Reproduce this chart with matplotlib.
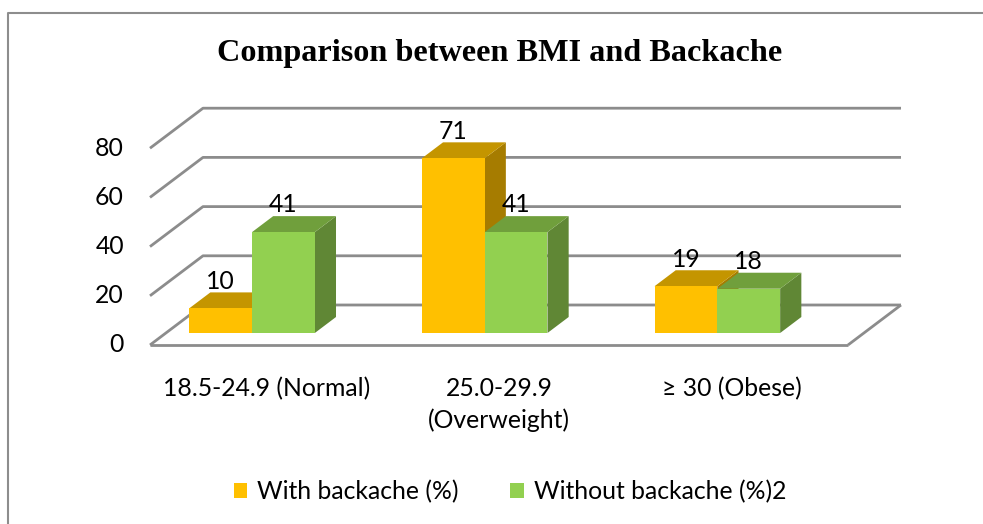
import matplotlib
matplotlib.use("Agg")
import matplotlib.pyplot as plt
from matplotlib.patches import Polygon, Patch
from matplotlib.lines import Line2D
import numpy as np

# ---- data -------------------------------------------------------------
categories = ["18.5-24.9 (Normal)", "25.0-29.9\n(Overweight)", "\u2265 30 (Obese)"]
series_names = ["With backache (%)", "Without backache (%)2"]
with_backache = [10, 71, 19]
without_backache = [41, 41, 18]
y_ticks = [0, 20, 40, 60, 80]
title = "Comparison between BMI and Backache"

# ---- style ------------------------------------------------------------
SANS = ["Lato", "DejaVu Sans"]
SERIF = ["Liberation Serif", "DejaVu Serif"]
front_colors = ["#FFC000", "#92D050"]
top_colors = ["#C49500", "#709F3C"]
side_colors = ["#A67C00", "#608735"]
grid_color = "#8C8C8C"
text_size = 17.8

W, H, DPI = 983, 524, 100
PX_CAT = 232.67          # pixels per category step
PX_VAL = 2.46            # pixels per value unit
ORIGIN = (266.33, 345)   # pixel position of (category 0, value 0) on the front plane

# oblique depth of the whole plot box (data units)
DEPTH_X = 53 / PX_CAT
DEPTH_Y = 40 / PX_VAL
# bars occupy this slice of the depth
D_FRONT, D_BACK = 0.3, 0.7
BAR_W = 0.27
GROUP_SHIFT = -0.13

fig = plt.figure(figsize=(W / DPI, H / DPI), dpi=DPI)
ax = fig.add_axes([0, 0, 1, 1])
ax.set_xlim(-ORIGIN[0] / PX_CAT, (W - ORIGIN[0]) / PX_CAT)
ax.set_ylim(-(H - ORIGIN[1]) / PX_VAL, ORIGIN[1] / PX_VAL)
ax.axis("off")

x = np.arange(len(categories))
x_lo, x_hi = -0.5, len(categories) - 0.5
grid_kw = dict(color=grid_color, lw=2.0, solid_capstyle="butt", zorder=1)

# floor outline and wall gridlines
ax.plot([x_lo, x_hi], [0, 0], **grid_kw)
ax.plot([x_hi, x_hi + DEPTH_X], [0, DEPTH_Y], **grid_kw)
for v in y_ticks:
    ax.plot([x_lo, x_lo + DEPTH_X, x_hi + DEPTH_X], [v, v + DEPTH_Y, v + DEPTH_Y], **grid_kw)
    ax.text(x_lo - 26 / PX_CAT, v, f"{v}", ha="right", va="center",
            fontsize=text_size, family=SANS, color="black")

# category labels under the floor
for xi, lab in zip(x, categories):
    ax.text(xi, -32 / PX_VAL, lab, ha="center", va="top", fontsize=text_size,
            family=SANS, linespacing=1.45, color="black")

# 3-D looking bars
dd = D_BACK - D_FRONT
series = [with_backache, without_backache]
offsets = [GROUP_SHIFT - BAR_W, GROUP_SHIFT]
for s, (vals, off) in enumerate(zip(series, offsets)):
    lefts = x + off + D_FRONT * DEPTH_X
    bottom = D_FRONT * DEPTH_Y
    bars = ax.bar(lefts, vals, width=BAR_W, bottom=bottom, align="edge",
                  color=front_colors[s], linewidth=0, zorder=4 + 2 * s)
    for rect, v in zip(bars, vals):
        L = rect.get_x()
        R = L + rect.get_width()
        top = bottom + v
        ddx, ddy = dd * DEPTH_X, dd * DEPTH_Y
        ax.add_patch(Polygon([(R, bottom), (R, top), (R + ddx, top + ddy), (R + ddx, bottom + ddy)],
                             closed=True, facecolor=side_colors[s], linewidth=0, zorder=3 + 2 * s))
        ax.add_patch(Polygon([(L, top), (R, top), (R + ddx, top + ddy), (L + ddx, top + ddy)],
                             closed=True, facecolor=top_colors[s], linewidth=0, zorder=3 + 2 * s))
        ax.text((L + R) / 2, top + ddy + 1.5, f"{v}", ha="center", va="baseline",
                fontsize=text_size, family=SANS, color="black", zorder=10)

# title
fig.text(499.5 / W, 1 - 61 / H, title, ha="center", va="baseline",
         fontsize=23.2, fontweight="bold", family=SERIF, color="black")

# legend
handles = [Patch(facecolor=c, edgecolor="none") for c in front_colors]
fig.legend(handles, series_names, loc="center", bbox_to_anchor=(510 / W, 1 - 492 / H),
           ncol=2, frameon=False, prop={"family": SANS, "size": text_size},
           handlelength=0.55, handleheight=0.55, handletextpad=0.4, columnspacing=2.1)

# outer chart border (open to the right and bottom)
fig.add_artist(Line2D([7.5 / W, 7.5 / W, 1.0], [0.0, 1 - 12.5 / H, 1 - 12.5 / H],
                      transform=fig.transFigure, color="#8D8D8D", lw=1.5))

fig.savefig("out.png", dpi=DPI)
